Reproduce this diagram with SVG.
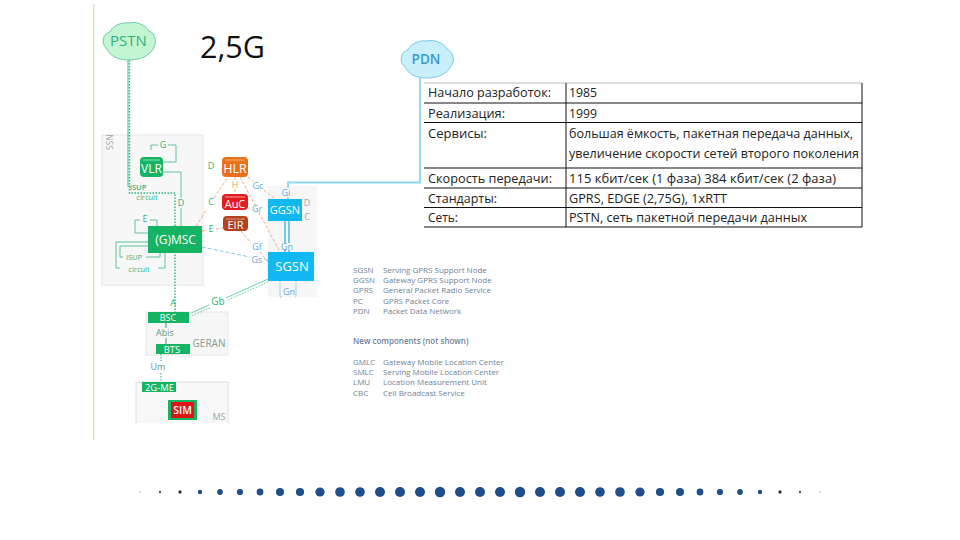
<svg xmlns="http://www.w3.org/2000/svg" width="960" height="540" viewBox="0 0 960 540">
<style>
text{font-family:"Open Sans","Liberation Sans",sans-serif}
.nl{fill:#fff;font-weight:400;text-anchor:middle}
.g{fill:#14b464}.b{fill:#12b8f2}
.panel{fill:#f7f7f7;stroke:#e6e6e6;stroke-width:1}
.lb{font-size:9px;text-anchor:middle;fill:#30b47c}
.lbb{font-size:9px;text-anchor:middle;fill:#5cacdc}
.lbg{font-size:9px;text-anchor:middle;fill:#a0a8a8}
.sg{fill:none;stroke:#5cc49a;stroke-width:1}
.dot{fill:none;stroke:#2cb47c;stroke-width:1.4;stroke-dasharray:1.5 1.5}
.teal{fill:none;stroke:#62d4b4;stroke-width:1.4}
.or{fill:none;stroke:#f0a888;stroke-width:1;stroke-dasharray:3 2}
.bl{fill:none;stroke:#8cc8e8;stroke-width:1;stroke-dasharray:4 2}
.tl{fill:none;stroke:#111;stroke-width:1}
.tt{font-size:13px;fill:#222}
.lg{font-size:8px;fill:#6f8296}
.d{fill:#1f4e8c}
</style>

<rect x="93" y="4" width="1.4" height="436" fill="#ecd9c2"/>

<g id="panels">
<rect class="panel" x="102" y="135" width="101" height="150"/>
<rect x="268" y="186" width="49" height="111" fill="#f6f6f6"/>
<rect class="panel" x="146" y="312" width="82" height="43"/>
<path d="M136 423V382H228V423" fill="#f8f8f8" stroke="#dedede" stroke-width="1"/>
<text class="lbg" transform="translate(106,142) rotate(90)" style="font-size:8.500px">NSS</text>
<text x="209" y="347" style="font-size:10px;fill:#7f9c8e;text-anchor:middle">GERAN</text>
<text x="219" y="420" style="font-size:9px;fill:#a0a8a8;text-anchor:middle">MS</text>
</g>

<g id="connectors">
<path class="teal" d="M128 60V187"/>
<path class="dot" d="M129.500 60V193H175V312"/>
<path class="sg" d="M163 162H176V145H168M158 145H151V150"/>
<path class="sg" d="M163 172H181V198M181 208V226"/>
<path class="sg" d="M148 233H135V220H140M150 220H157V226"/>
<path class="sg" d="M148 242H116V268H120M158 268H165V253M120 246H148M120 246V257H123M146 257H160V253"/>
<path class="or" d="M196 226L207 209M214 198L228 177M235 177V181M235 189V194M240 177L280 252M248 177L253 181M264 190L275 199M241 231L251 243M260 252L268 262M202 231L206 230.500M216 229L223 228"/>
<path class="bl" d="M202 247L250 257M264 259L268 260"/>
<path d="M420 78V182.500H288V188" fill="none" stroke="#8ad8ec" stroke-width="1.800"/>
<path d="M288 197V199" fill="none" stroke="#8ad8ec" stroke-width="1.800"/>
<path d="M285 221V243M289 221V243M285 250V252M289 250V252" fill="none" stroke="#45bce8" stroke-width="1.500"/>
<path class="sg" d="M280 281V297H282M296 281V297H295" style="stroke:#a8d0e4"/>
<path class="teal" d="M268 279L226 298M209 305L191 313" style="stroke-width:1"/>
<path class="dot" d="M268 282L228 300M210 308L191 316" style="stroke-width:1;stroke:#62c8a4"/>
<path class="sg" d="M166 323V328M166 338V344" style="stroke:#3c9c74"/>
<path class="dot" d="M161 354V361M161 373V382" style="stroke:#62c8a4"/>
</g>

<g id="connector-labels">
<text class="lb" x="163" y="148">G</text>
<text class="lb" x="211" y="169">D</text>
<text class="lb" x="181" y="206">D</text>
<text class="lb" x="211" y="205">C</text>
<text class="lb" x="211" y="232">E</text>
<text class="lb" x="145" y="222">E</text>
<text class="lb" x="138" y="190" style="font-size:7.500px;font-weight:600">ISUP</text>
<text class="lb" x="147" y="200" style="font-size:7.500px">circuit</text>
<text class="lb" x="134" y="260" style="font-size:7.500px">ISUP</text>
<text class="lb" x="139" y="272" style="font-size:7.500px">circuit</text>
<text class="lb" x="235" y="188" style="fill:#e8a080">H</text>
<text class="lbb" x="258" y="189">Gc</text>
<text class="lbb" x="257" y="212">Gr</text>
<text class="lbb" x="257" y="250">Gf</text>
<text class="lbb" x="257" y="263">Gs</text>
<text class="lbb" x="287" y="250">Gn</text>
<text class="lbb" x="286" y="196">Gi</text>
<text class="lbb" x="289" y="295">Gn</text>
<text class="lbg" x="307" y="206">D</text>
<text class="lbg" x="307" y="220">C</text>
<text class="lb" x="218" y="305" style="font-size:10px">Gb</text>
<text class="lb" x="173" y="306">A</text>
<text class="lb" x="165" y="336" style="fill:#5c9c84">Abis</text>
<text class="lb" x="158" y="370" style="fill:#5c9c84">Um</text>
</g>

<g id="PSTN">
<path d="M110 32C113 25 122 22 129 23C136 21 146 25 149 31C156 33 157 44 153 49C149 56 140 60 129 60C118 60 110 56 107 49C101 44 102 34 110 32Z" fill="#c4f5d2" stroke="#6ccca8" stroke-width="1"/>
<text x="128.500" y="46" style="font-size:15px;font-weight:500;fill:#2cb47c;text-anchor:middle">PSTN</text>
</g>
<g id="PDN">
<path d="M408 50C411 43 420 40 427 41C434 39 444 43 447 49C454 52 455 62 451 66C447 74 438 78 427 78C416 78 408 74 405 67C399 62 400 52 408 50Z" fill="#c8effb" stroke="#72cce8" stroke-width="1"/>
<text x="426" y="64" style="font-size:13.500px;font-weight:600;fill:#3c98d0;text-anchor:middle">PDN</text>
</g>

<g id="VLR">
<rect class="g" x="140" y="157" width="23" height="20" rx="4"/>
<path d="M143 160H160" stroke="#8ce0b8" stroke-width="1"/>
<text class="nl" x="151.500" y="173" style="font-size:12px">VLR</text>
</g>
<g id="HLR">
<rect x="222" y="157" width="26" height="20" rx="4" fill="#e9711c"/>
<path d="M225 160H245" stroke="#f6b070" stroke-width="1"/>
<text class="nl" x="235" y="173" style="font-size:12.500px">HLR</text>
</g>
<g id="AuC">
<rect x="222" y="194" width="26" height="16" rx="4" fill="#e01c20"/>
<path d="M225 197H245" stroke="#f4a0a0" stroke-width="1"/>
<text class="nl" x="235" y="208" style="font-size:11px">AuC</text>
</g>
<g id="EIR">
<rect x="223" y="216" width="25" height="15" rx="4" fill="#b4401c"/>
<path d="M226 219H245" stroke="#e0a080" stroke-width="1"/>
<text class="nl" x="235.500" y="229" style="font-size:11px">EIR</text>
</g>
<g id="GMSC">
<rect class="g" x="148" y="226" width="54" height="27"/>
<text class="nl" x="175.500" y="244" style="font-size:12px">(G)MSC</text>
</g>
<g id="GGSN">
<rect class="b" x="268" y="199" width="34" height="22"/>
<text class="nl" x="285" y="214" style="font-size:11px">GGSN</text>
</g>
<g id="SGSN">
<rect class="b" x="268" y="252" width="46" height="29"/>
<text class="nl" x="292" y="271" style="font-size:13px">SGSN</text>
</g>
<g id="BSC">
<rect class="g" x="148" y="312" width="41" height="11"/>
<text class="nl" x="168" y="321" style="font-size:9px">BSC</text>
</g>
<g id="BTS">
<rect class="g" x="156" y="344" width="34" height="10"/>
<text class="nl" x="172" y="352.500" style="font-size:9.500px">BTS</text>
</g>
<g id="ME">
<rect class="g" x="142" y="382" width="34" height="10"/>
<text class="nl" x="159.500" y="390.500" style="font-size:9.500px">2G-ME</text>
</g>
<g id="SIM">
<rect class="g" x="168" y="400" width="29" height="20"/>
<rect x="171" y="402" width="23" height="16" fill="#e01414"/>
<text class="nl" x="182.500" y="414" style="font-size:10.500px;font-weight:600">SIM</text>
</g>

<g id="title">
<text x="200" y="58" textLength="65" lengthAdjust="spacingAndGlyphs" style="font-size:31px;fill:#111">2,5G</text>
</g>

<g id="table">
<path d="M424 83H862" stroke="#bbb" stroke-width="1" fill="none"/>
<path class="tl" d="M424 103H862M424 122.500H862M424 168H862M424 188H862M424 207.500H862M424 227H862M566 83V227M862 83V227"/>
<text class="tt" x="428" y="97" textLength="123" lengthAdjust="spacingAndGlyphs">Начало разработок:</text>
<text class="tt" x="428" y="118" textLength="77" lengthAdjust="spacingAndGlyphs">Реализация:</text>
<text class="tt" x="428" y="138" textLength="59" lengthAdjust="spacingAndGlyphs">Сервисы:</text>
<text class="tt" x="428" y="183" textLength="124" lengthAdjust="spacingAndGlyphs">Скорость передачи:</text>
<text class="tt" x="428" y="203" textLength="69" lengthAdjust="spacingAndGlyphs">Стандарты:</text>
<text class="tt" x="428" y="222" textLength="30" lengthAdjust="spacingAndGlyphs">Сеть:</text>
<text class="tt" x="569" y="97" textLength="28" lengthAdjust="spacingAndGlyphs">1985</text>
<text class="tt" x="569" y="118" textLength="28" lengthAdjust="spacingAndGlyphs">1999</text>
<text class="tt" x="569" y="138" textLength="284" lengthAdjust="spacingAndGlyphs">большая ёмкость, пакетная передача данных,</text>
<text class="tt" x="569" y="158" textLength="290" lengthAdjust="spacingAndGlyphs">увеличение скорости сетей второго поколения</text>
<text class="tt" x="569" y="183" textLength="267" lengthAdjust="spacingAndGlyphs">115 кбит/сек (1 фаза) 384 кбит/сек (2 фаза)</text>
<text class="tt" x="569" y="203" textLength="158" lengthAdjust="spacingAndGlyphs">GPRS, EDGE (2,75G), 1xRTT</text>
<text class="tt" x="569" y="222" textLength="238" lengthAdjust="spacingAndGlyphs">PSTN, сеть пакетной передачи данных</text>
</g>

<g id="legend">
<text class="lg" x="353" y="273">SGSN</text><text class="lg" x="383" y="273">Serving GPRS Support Node</text>
<text class="lg" x="353" y="283">GGSN</text><text class="lg" x="383" y="283">Gateway GPRS Support Node</text>
<text class="lg" x="353" y="293">GPRS</text><text class="lg" x="383" y="293">General Packet Radio Service</text>
<text class="lg" x="353" y="304">PC</text><text class="lg" x="383" y="304">GPRS Packet Core</text>
<text class="lg" x="353" y="314">PDN</text><text class="lg" x="383" y="314">Packet Data Network</text>
<text class="lg" x="353" y="344" style="font-weight:600">New components (not shown)</text>
<text class="lg" x="353" y="365">GMLC</text><text class="lg" x="383" y="365">Gateway Mobile Location Center</text>
<text class="lg" x="353" y="375">SMLC</text><text class="lg" x="383" y="375">Serving Mobile Location Center</text>
<text class="lg" x="353" y="385">LMU</text><text class="lg" x="383" y="385">Location Measurement Unit</text>
<text class="lg" x="353" y="396">CBC</text><text class="lg" x="383" y="396">Cell Broadcast Service</text>
</g>

<g id="dots">
<circle cx="140" cy="492" r="0.800" fill="#aaa"/><circle cx="160" cy="492" r="1.200" fill="#555"/><circle cx="180" cy="492" r="1.700" fill="#333"/>
<circle class="d" cx="200" cy="492" r="2.200"/><circle class="d" cx="220" cy="492" r="2.900"/><circle class="d" cx="240" cy="492" r="3.100"/><circle class="d" cx="260" cy="492" r="3.400"/><circle class="d" cx="280" cy="492" r="4"/><circle class="d" cx="300" cy="492" r="4.100"/><circle class="d" cx="320" cy="492" r="4.600"/><circle class="d" cx="340" cy="492" r="4.800"/><circle class="d" cx="360" cy="492" r="4.800"/><circle class="d" cx="380" cy="492" r="5"/><circle class="d" cx="400" cy="492" r="5"/><circle class="d" cx="420" cy="492" r="5"/><circle class="d" cx="440" cy="492" r="5.200"/><circle class="d" cx="460" cy="492" r="5"/><circle class="d" cx="480" cy="492" r="5"/><circle class="d" cx="500" cy="492" r="5"/><circle class="d" cx="520" cy="492" r="5.200"/><circle class="d" cx="540" cy="492" r="5"/><circle class="d" cx="560" cy="492" r="5"/><circle class="d" cx="580" cy="492" r="5"/><circle class="d" cx="600" cy="492" r="4.800"/><circle class="d" cx="620" cy="492" r="4.800"/><circle class="d" cx="640" cy="492" r="4.600"/><circle class="d" cx="660" cy="492" r="4.100"/><circle class="d" cx="680" cy="492" r="4"/><circle class="d" cx="700" cy="492" r="3.400"/><circle class="d" cx="720" cy="492" r="3.100"/><circle class="d" cx="740" cy="492" r="2.900"/><circle class="d" cx="760" cy="492" r="2.200"/>
<circle cx="780" cy="492" r="1.700" fill="#333"/><circle cx="800" cy="492" r="1.200" fill="#555"/><circle cx="820" cy="492" r="0.800" fill="#aaa"/>
</g>
</svg>
